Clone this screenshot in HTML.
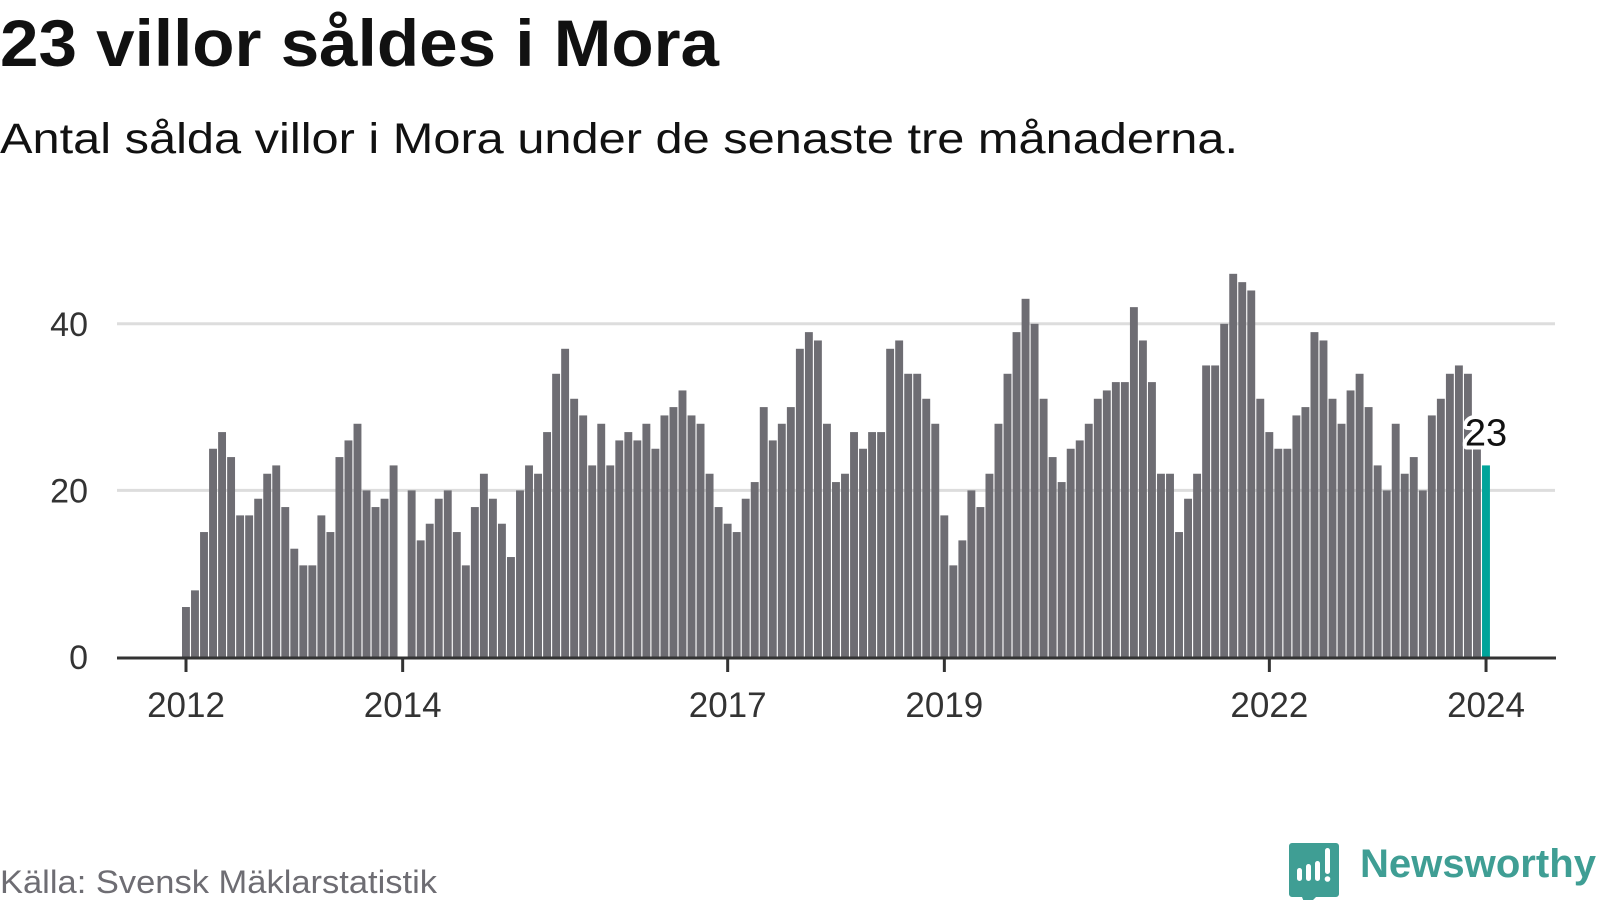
<!DOCTYPE html>
<html><head><meta charset="utf-8">
<style>
html,body{margin:0;padding:0;background:#fff;}
svg{display:block;}
text{font-family:"Liberation Sans",sans-serif;}
</style></head>
<body>
<svg id="chart" width="1600" height="900" viewBox="0 0 1600 900" xmlns="http://www.w3.org/2000/svg">
  <text x="0" y="66" font-size="66" font-weight="bold" fill="#111" textLength="719" lengthAdjust="spacingAndGlyphs">23 villor såldes i Mora</text>
  <text x="0" y="153" font-size="43" fill="#111" textLength="1238" lengthAdjust="spacingAndGlyphs">Antal sålda villor i Mora under de senaste tre månaderna.</text>
  <g id="grid"></g>
  <g id="yaxis"></g>
  <g id="bars"></g>
  <g id="xaxis"></g>
  <g id="annot"></g>
  <text x="0" y="893" font-size="32" fill="#6e6d73" textLength="437" lengthAdjust="spacingAndGlyphs">Källa: Svensk Mäklarstatistik</text>
  <g>
    <path d="M1292 843 h44 a3 3 0 0 1 3 3 v48 a3 3 0 0 1 -3 3 h-20 l-10 10 l-4 -10 h-10 a3 3 0 0 1 -3 -3 v-48 a3 3 0 0 1 3 -3z" fill="#3f9e94"/>
    <rect x="1297" y="868" width="5" height="13" rx="2.5" fill="#fff"/>
    <rect x="1306" y="864" width="5" height="17" rx="2.5" fill="#fff"/>
    <rect x="1315" y="861" width="5" height="20" rx="2.5" fill="#fff"/>
    <rect x="1325" y="848" width="5" height="26" rx="2.5" fill="#fff"/>
    <circle cx="1327.5" cy="879" r="2.8" fill="#fff"/>
    <text x="1360" y="877" font-size="40" font-weight="bold" fill="#3f9e94" textLength="236" lengthAdjust="spacingAndGlyphs">Newsworthy</text>
  </g>
</svg>
<script>
const startYear = 2012;
const values = [
 6,8,15,25,27,24,17,17,19,22,23,18,
 13,11,11,17,15,24,26,28,20,18,19,23,
 0,20,14,16,19,20,15,11,18,22,19,16,
 12,20,23,22,27,34,37,31,29,23,28,23,
 26,27,26,28,25,29,30,32,29,28,22,18,
 16,15,19,21,30,26,28,30,37,39,38,28,
 21,22,27,25,27,27,37,38,34,34,31,28,
 17,11,14,20,18,22,28,34,39,43,40,31,
 24,21,25,26,28,31,32,33,33,42,38,33,
 22,22,15,19,22,35,35,40,46,45,44,31,
 27,25,25,29,30,39,38,31,28,32,34,30,
 23,20,28,22,24,20,29,31,34,35,34,25,
 23
];
const yTicks = [0,20,40];
const xTickYears = [2012,2014,2017,2019,2022,2024];

const NS = "http://www.w3.org/2000/svg";
const x0 = 182, step = 9.028, barW = 7.9;
const y0 = 657, pxPerUnit = 8.33;
function xScale(i){ return x0 + i*step; }
function yScale(v){ return y0 - v*pxPerUnit; }
function mk(tag, attrs, parent){
  const e = document.createElementNS(NS, tag);
  for (const k in attrs) e.setAttribute(k, attrs[k]);
  parent.appendChild(e); return e;
}
const grid = document.getElementById('grid');
const yaxis = document.getElementById('yaxis');
yTicks.forEach(t=>{
  if (t>0){
    const l = mk('line',{x1:117,x2:1555,y1:yScale(t),y2:yScale(t),stroke:'#dddddd','stroke-width':3},grid);
    
    
  }
  const tx = mk('text',{x:88,y:yScale(t)+12,'font-size':34,fill:'#333','text-anchor':'end'},yaxis);
  tx.textContent = t;
  
  
});
const bars = document.getElementById('bars');
values.forEach((v,i)=>{
  if (v<=0) return;
  const last = i===values.length-1;
  const r = mk('rect',{x:xScale(i),y:yScale(v),width:barW,height:v*pxPerUnit,fill:last?'#00a49a':'#6e6d73'},bars);
  
  
});
const xaxis = document.getElementById('xaxis');
const ax = mk('line',{x1:117,x2:1556,y1:y0+1,y2:y0+1,stroke:'#333','stroke-width':3},xaxis);


xTickYears.forEach(yr=>{
  const i = (yr-startYear)*12;
  const xc = xScale(i)+4;
  const tk = mk('line',{x1:xc,x2:xc,y1:y0,y2:y0+15,stroke:'#333','stroke-width':3},xaxis);
  
  
  const tl = mk('text',{x:xc,y:717,'font-size':35,fill:'#333','text-anchor':'middle'},xaxis);
  tl.textContent = yr;
  
  
});
const annot = document.getElementById('annot');
const li = values.length-1;
const lab = mk('text',{x:xScale(li)+4,y:yScale(values[li])-20,'font-size':38,fill:'#111','text-anchor':'middle',stroke:'#fff','stroke-width':8,'stroke-linejoin':'round','paint-order':'stroke'},annot);
lab.textContent = values[li];


</script>
</body></html>
